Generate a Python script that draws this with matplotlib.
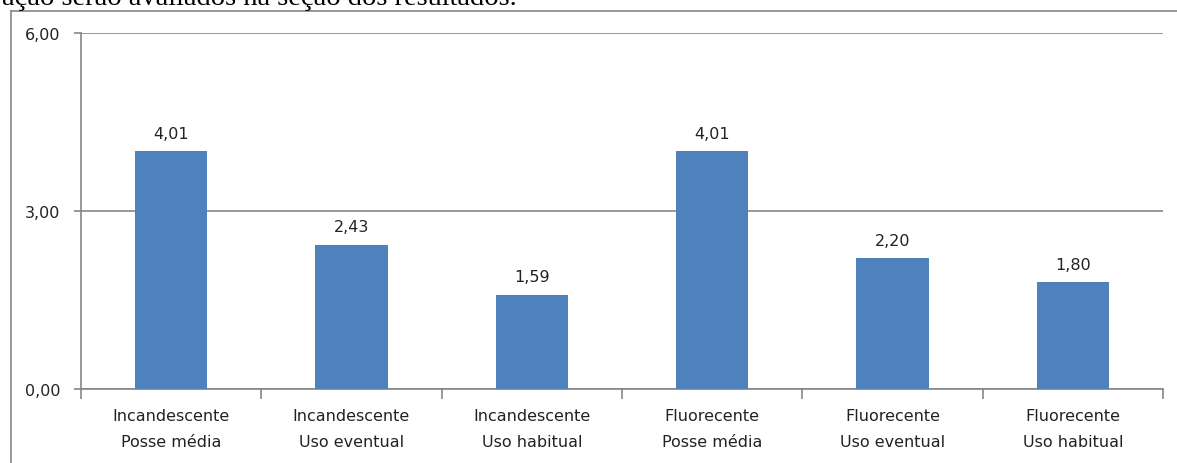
import matplotlib
matplotlib.use("Agg")
import matplotlib.pyplot as plt
from matplotlib.lines import Line2D
import numpy as np

# Data
categories = [
    "Incandescente\nPosse média",
    "Incandescente\nUso eventual",
    "Incandescente\nUso habitual",
    "Fluorecente\nPosse média",
    "Fluorecente\nUso eventual",
    "Fluorecente\nUso habitual",
]
values = [4.01, 2.43, 1.59, 4.01, 2.20, 1.80]
value_labels = ["4,01", "2,43", "1,59", "4,01", "2,20", "1,80"]
y_ticks = [0.0, 3.0, 6.0]
y_tick_labels = ["0,00", "3,00", "6,00"]
caption = "ação serão avaliados na seção dos resultados."

W, H = 1177, 464
fig = plt.figure(figsize=(W / 100, H / 100), dpi=100)
fig.patch.set_facecolor("white")

BAR = "#4F81BD"
GRID = "#868686"
TXT = "#222222"
FONT = "DejaVu Sans"
FS = 11.5

# Body text of the page above the chart, cut off by the top edge
fig.text(2 / W, 1 - 5 / H, caption, fontsize=20.5, family="Liberation Serif",
         color="black", ha="left", va="baseline")

# Outer chart frame (left and top edges visible)
fig.add_artist(Line2D([11 / W, 11 / W], [0, 1 - 12 / H], transform=fig.transFigure,
                      color=GRID, lw=1.2))
fig.add_artist(Line2D([11 / W, 1], [1 - 12 / H, 1 - 12 / H], transform=fig.transFigure,
                      color=GRID, lw=1.2))

left, right, top, bottom = 81, 1163, 34, 390
ax = fig.add_axes([left / W, 1 - bottom / H, (right - left) / W, (bottom - top) / H])

x = np.arange(len(categories))
bars = ax.bar(x, values, width=0.4, color=BAR, zorder=3)

ax.set_xlim(-0.5, len(categories) - 0.5)
ax.set_ylim(0, 6)

for xi, v, lab in zip(x, values, value_labels):
    ax.annotate(lab, (xi, v), xytext=(0, 7.5), textcoords="offset points",
                ha="center", va="bottom", fontsize=FS, family=FONT, color=TXT)

# Gridlines at major y ticks
ax.set_yticks(y_ticks)
ax.set_yticklabels(y_tick_labels, fontsize=FS, family=FONT, color=TXT)
ax.yaxis.grid(True, color=GRID, lw=1.2, zorder=0)
ax.tick_params(axis="y", length=5, width=1.2, color=GRID, pad=10)

# Category labels centred, tick marks at category boundaries
ax.set_xticks(x)
ax.set_xticklabels(categories, fontsize=FS, family=FONT, color=TXT, linespacing=1.85)
ax.set_xticks(np.arange(-0.5, len(categories)), minor=True)
ax.tick_params(axis="x", which="major", length=0, pad=14)
ax.tick_params(axis="x", which="minor", length=7, width=1.2, color=GRID)

for s in ["top", "right"]:
    ax.spines[s].set_visible(False)
for s in ["left", "bottom"]:
    ax.spines[s].set_color(GRID)
    ax.spines[s].set_linewidth(1.2)

fig.savefig("out.png", dpi=100)
